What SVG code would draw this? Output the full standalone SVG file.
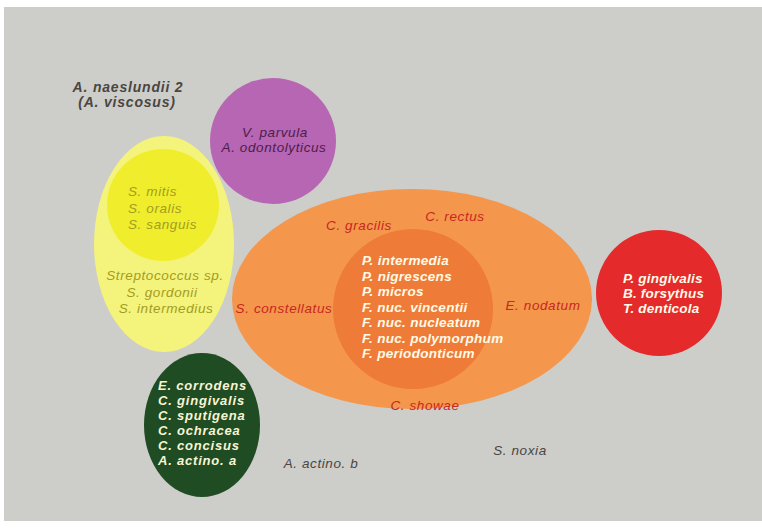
<svg xmlns="http://www.w3.org/2000/svg" width="762" height="528" viewBox="0 0 762 528">
<style>
text{font-family:"Liberation Sans",Arial,sans-serif;font-style:italic;font-size:13.5px;letter-spacing:0.6px}
.dk{fill:#4a4642;font-weight:bold;font-size:14px;letter-spacing:0.8px}
.gr{fill:#4a4642}
.pu{fill:#4e1c4a}
.ol{fill:#a39c22}
.rd{fill:#c6281f}
.wh{fill:#fffbe8;font-weight:bold;letter-spacing:0.3px}
.rw{letter-spacing:0.2px}
.gw{font-size:13px;letter-spacing:0.8px;fill:#f8f5d6}
.c{text-anchor:middle}
</style>
<rect x="0" y="0" width="762" height="528" fill="#ffffff"/>
<rect x="4" y="7" width="758" height="514" fill="#cdcdca"/>
<g id="connectors"></g>
<g id="free-labels">
<text class="dk c" x="128" y="92">A. naeslundii 2</text>
<text class="dk c" x="127" y="107">(A. viscosus)</text>
<text class="gr c" x="321" y="468">A. actino. b</text>
<text class="gr c" x="520" y="455">S. noxia</text>
</g>
<g id="purple">
<circle cx="273" cy="141" r="63" fill="#b666b2"/>
<text class="pu c" x="275" y="137">V. parvula</text>
<text class="pu c" x="274" y="152">A. odontolyticus</text>
</g>
<g id="yellow">
<ellipse cx="164" cy="244" rx="70" ry="108" fill="#f4f37c"/>
<circle cx="163" cy="205" r="56" fill="#f0ee2c"/>
<text class="ol" x="128" y="196">S. mitis</text>
<text class="ol" x="128" y="213">S. oralis</text>
<text class="ol" x="128" y="229">S. sanguis</text>
<text class="ol c" x="165" y="280">Streptococcus sp.</text>
<text class="ol c" x="162" y="297">S. gordonii</text>
<text class="ol c" x="166" y="313">S. intermedius</text>
</g>
<g id="orange">
<ellipse cx="412" cy="299" rx="180" ry="110" fill="#f4964c"/>
<circle cx="413" cy="309" r="80" fill="#ee7b37"/>
<text class="rd c" x="359" y="230">C. gracilis</text>
<text class="rd c" x="455" y="221">C. rectus</text>
<text class="rd c" x="284" y="313">S. constellatus</text>
<text class="rd c" x="543" y="310">E. nodatum</text>
<text class="rd c" x="425" y="410">C. showae</text>
<text class="wh" x="362" y="265">P. intermedia</text>
<text class="wh" x="362" y="280.5">P. nigrescens</text>
<text class="wh" x="362" y="296">P. micros</text>
<text class="wh" x="362" y="311.5">F. nuc. vincentii</text>
<text class="wh" x="362" y="327">F. nuc. nucleatum</text>
<text class="wh" x="362" y="342.5">F. nuc. polymorphum</text>
<text class="wh" x="362" y="358">F. periodonticum</text>
</g>
<g id="red">
<circle cx="659" cy="293" r="63" fill="#e42a2b"/>
<text class="wh rw" x="623" y="283">P. gingivalis</text>
<text class="wh rw" x="623" y="298">B. forsythus</text>
<text class="wh rw" x="623" y="313">T. denticola</text>
</g>
<g id="green">
<ellipse cx="202" cy="425" rx="58" ry="72" fill="#1f4c22"/>
<text class="wh gw" x="158" y="390">E. corrodens</text>
<text class="wh gw" x="158" y="405">C. gingivalis</text>
<text class="wh gw" x="158" y="420">C. sputigena</text>
<text class="wh gw" x="158" y="435">C. ochracea</text>
<text class="wh gw" x="158" y="450">C. concisus</text>
<text class="wh gw" x="158" y="465">A. actino. a</text>
</g>
</svg>
